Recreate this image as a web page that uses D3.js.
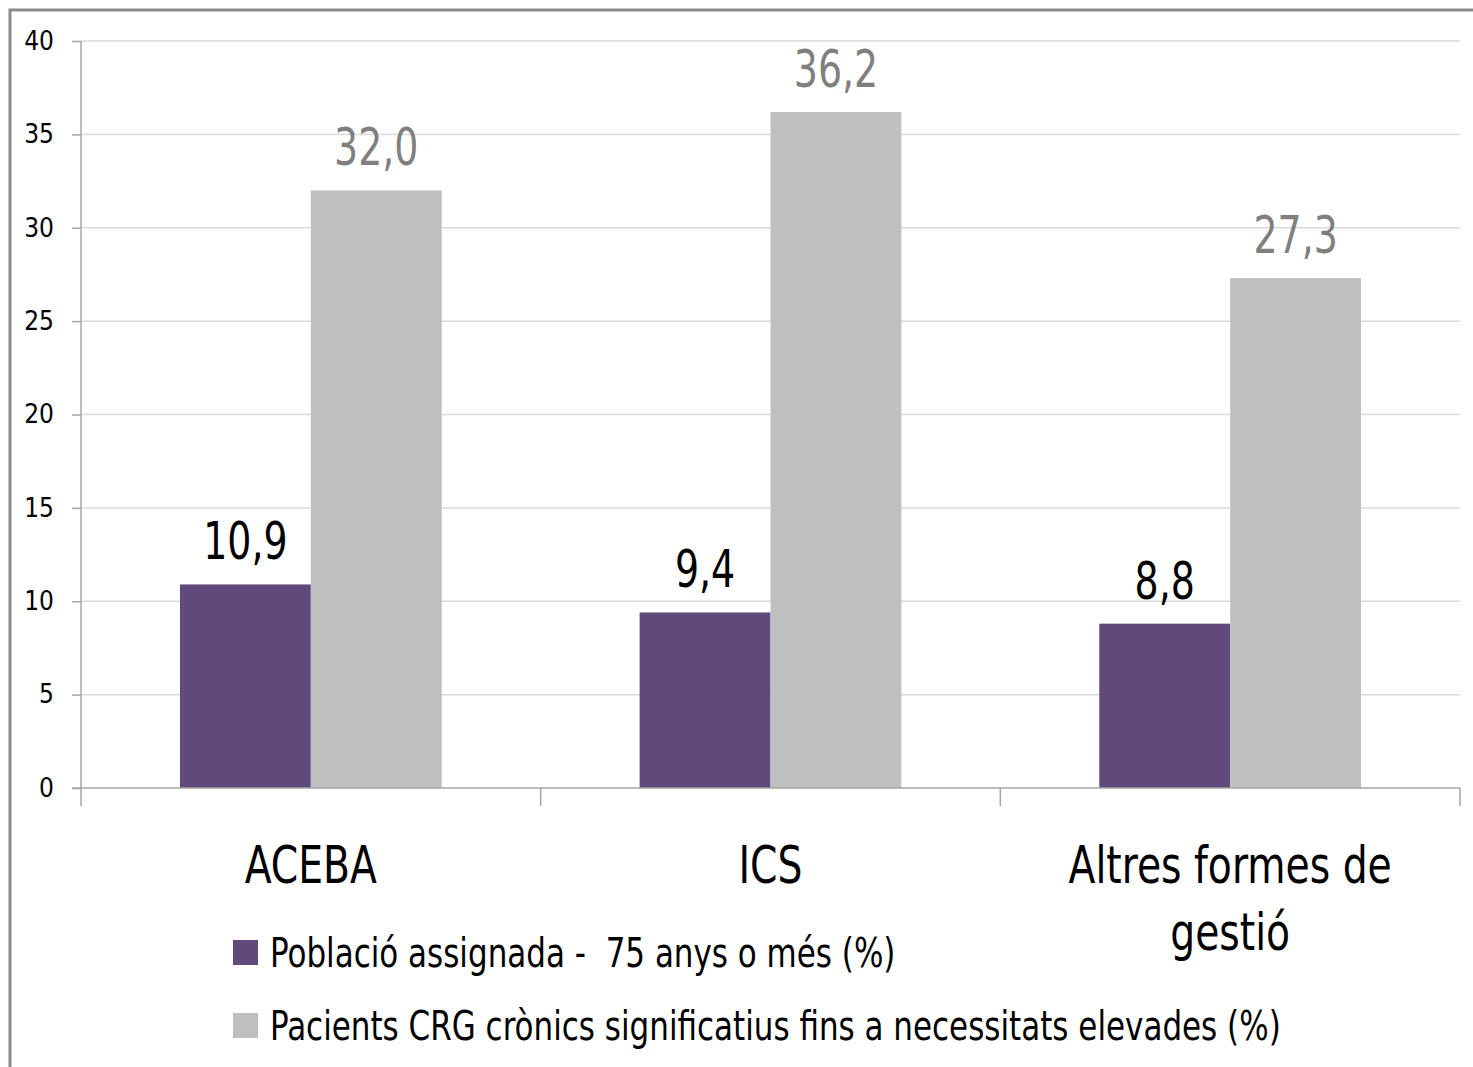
<!DOCTYPE html>
<html>
<head>
<meta charset="utf-8">
<script src="https://cdn.jsdelivr.net/npm/d3@7"></script>
<style>
  body { margin: 0; background: #fff; }
  text { font-family: "Liberation Sans Narrow", "DejaVu Sans Condensed", sans-serif; white-space: pre; }
</style>
</head>
<body>
<div id="chart"></div>
<script>
// data
var categories = [["ACEBA"], ["ICS"], ["Altres formes de", "gestió"]];
var catKeys = ["ACEBA", "ICS", "Altres"];
var seriesNames = ["Població assignada -  75 anys o més (%)",
                   "Pacients CRG crònics significatius fins a necessitats elevades (%)"];
var poblacio = [10.9, 9.4, 8.8];
var pacients = [32.0, 36.2, 27.3];
var yTicks = [0, 5, 10, 15, 20, 25, 30, 35, 40];

var colors = ["#604a7b", "#bfbfbf"];
var labelColors = ["#000", "#7f7f7f"];

const chartW = 1473, chartH = 1067;
const plotL = 81, plotR = 1460, plotT = 41, plotB = 788;

const svg = d3.select("#chart").append("svg")
    .attr("width", chartW)
    .attr("height", chartH);

// outer frame
svg.append("rect")
    .attr("x", 10).attr("y", 10)
    .attr("width", 1500).attr("height", 1100)
    .attr("fill", "none")
    .attr("stroke", "#8a8a8a")
    .attr("stroke-width", 3);

var y = d3.scaleLinear().domain([0, 40]).range([plotB, plotT]);
var x = d3.scaleBand().domain(catKeys).range([plotL, plotR]).padding(0);
var xs = d3.scaleBand().domain([0, 1]).range([0, x.bandwidth()])
    .paddingInner(0).paddingOuter(0.756);

// grid
svg.append("g").selectAll("line")
    .data(yTicks.filter(function(d) { return d > 0; }))
    .enter().append("line")
    .attr("x1", plotL).attr("x2", plotR)
    .attr("y1", function(d) { return y(d); })
    .attr("y2", function(d) { return y(d); })
    .attr("stroke", "#d9d9d9")
    .attr("stroke-width", 1.5);

// y axis
var yAxis = svg.append("g")
    .attr("transform", "translate(" + plotL + ",0)")
    .call(d3.axisLeft(y).tickValues(yTicks).tickSize(9).tickPadding(18));
yAxis.select(".domain").remove();
yAxis.selectAll("line").attr("stroke", "#a6a6a6").attr("stroke-width", 1.5);
yAxis.selectAll("text")
    .style("font-size", "26px")
    .attr("fill", "#000");

svg.append("line")
    .attr("x1", plotL).attr("x2", plotL)
    .attr("y1", plotT).attr("y2", plotB + 18)
    .attr("stroke", "#a6a6a6").attr("stroke-width", 1.5);

// bars
var series = [poblacio, pacients];
series.forEach(function(vals, s) {
    svg.append("g").selectAll("rect")
        .data(vals)
        .enter().append("rect")
        .attr("x", function(d, i) { return x(catKeys[i]) + xs(s); })
        .attr("width", xs.bandwidth())
        .attr("y", function(d) { return y(d); })
        .attr("height", function(d) { return y(0) - y(d); })
        .attr("fill", colors[s]);

    svg.append("g").selectAll("text")
        .data(vals)
        .enter().append("text")
        .attr("transform", function(d, i) {
            var cx = x(catKeys[i]) + xs(s) + xs.bandwidth() / 2;
            return "translate(" + cx + "," + (y(d) - 25) + ") scale(0.81,1)";
        })
        .attr("text-anchor", "middle")
        .style("font-size", "52px")
        .attr("fill", labelColors[s])
        .text(function(d) { return d.toFixed(1).replace(".", ","); });
});

// x axis
var xAxis = svg.append("g")
    .attr("transform", "translate(0," + plotB + ")");
xAxis.append("line")
    .attr("x1", plotL - 9).attr("x2", plotR)
    .attr("stroke", "#a6a6a6").attr("stroke-width", 1.5);
xAxis.selectAll("line.tick")
    .data(catKeys.slice(1).concat(["end"]))
    .enter().append("line")
    .attr("class", "tick")
    .attr("x1", function(d) { return d == "end" ? plotR : x(d); })
    .attr("x2", function(d) { return d == "end" ? plotR : x(d); })
    .attr("y1", 0).attr("y2", 18)
    .attr("stroke", "#a6a6a6").attr("stroke-width", 1.5);

categories.forEach(function(lines, i) {
    var cx = x(catKeys[i]) + x.bandwidth() / 2;
    var t = svg.append("text")
        .attr("transform", "translate(" + cx + ",883) scale(0.84,1)")
        .attr("text-anchor", "middle")
        .style("font-size", "52px")
        .attr("fill", "#000");
    lines.forEach(function(l, j) {
        t.append("tspan").attr("x", 0).attr("dy", j == 0 ? 0 : 67).text(l);
    });
});

// legend
var legend = svg.append("g").selectAll("g")
    .data(seriesNames)
    .enter().append("g")
    .attr("transform", function(d, i) { return "translate(233," + (940 + i * 73) + ")"; });
legend.append("rect")
    .attr("width", 25).attr("height", 25)
    .attr("fill", function(d, i) { return colors[i]; });
legend.append("text")
    .attr("transform", "translate(37,27) scale(0.84,1)")
    .style("font-size", "41px")
    .attr("fill", "#000")
    .text(function(d) { return d; });
</script>
</body>
</html>
